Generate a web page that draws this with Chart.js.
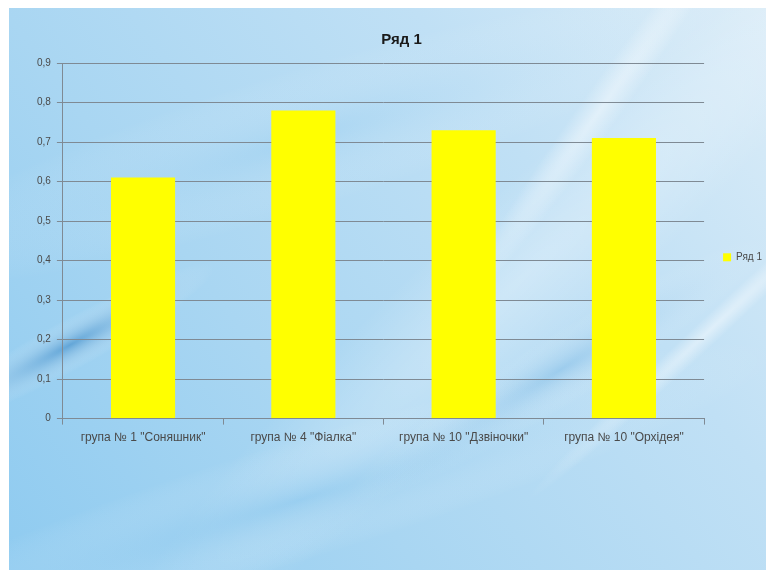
<!DOCTYPE html>
<html>
<head>
<meta charset="utf-8">
<script src="https://cdn.jsdelivr.net/npm/chart.js@4.4.1/dist/chart.umd.min.js"></script>
<style>
  html, body { margin: 0; padding: 0; background: #ffffff; }
  #wrap { width: 766px; height: 575px; position: relative; }
</style>
</head>
<body>
<div id="wrap"><canvas id="canvas" width="766" height="575"></canvas></div>
<script>
// data
const categories = ['група № 1 "Соняшник"', 'група № 4 "Фіалка"', 'група № 10 "Дзвіночки"', 'група № 10 "Орхідея"'];
const seriesName = 'Ряд 1';
const seriesValues = [0.61, 0.78, 0.73, 0.71];
const yTicks = [0, 0.1, 0.2, 0.3, 0.4, 0.5, 0.6, 0.7, 0.8, 0.9];

const textColor = '#4a4a4a';
const gridColor = '#7f8a94';

// blue "office" backdrop with soft diagonal streaks
const backdrop = {
  id: 'backdrop',
  beforeDraw(chart) {
    const ctx = chart.ctx;
    const x0 = 9, y0 = 8, w = 757, h = 562;
    ctx.save();
    ctx.beginPath();
    ctx.rect(x0, y0, w, h);
    ctx.clip();

    let g = ctx.createLinearGradient(x0, y0 + h, x0 + w, y0);
    g.addColorStop(0, '#8fcbf0');
    g.addColorStop(0.35, '#a9d6f2');
    g.addColorStop(0.7, '#c0e0f5');
    g.addColorStop(1, '#dcedf8');
    ctx.fillStyle = g;
    ctx.fillRect(x0, y0, w, h);

    // elliptical streak, fading out on every side
    const streak = (cx, cy, len, thick, angle, color) => {
      ctx.save();
      ctx.translate(cx, cy);
      ctx.rotate(angle);
      ctx.scale(len / thick, 1);
      const r = thick / 2;
      let rg = ctx.createRadialGradient(0, 0, 0, 0, 0, r);
      rg.addColorStop(0, color);
      rg.addColorStop(1, 'rgba(255,255,255,0)');
      ctx.fillStyle = rg;
      ctx.fillRect(-r, -r, 2 * r, 2 * r);
      ctx.restore();
    };
    streak(70, 345, 330, 50, -0.5, 'rgba(50,130,195,0.55)');
    streak(520, 280, 1100, 160, -0.75, 'rgba(255,255,255,0.3)');
    streak(600, 110, 500, 40, -0.95, 'rgba(255,255,255,0.45)');
    streak(710, 330, 500, 26, -0.75, 'rgba(255,255,255,0.45)');
    streak(300, 500, 1000, 120, -0.3, 'rgba(120,190,235,0.4)');
    streak(560, 370, 500, 70, -0.55, 'rgba(90,165,220,0.3)');
    streak(300, 140, 900, 140, -0.3, 'rgba(140,200,238,0.3)');
    ctx.restore();
  }
};

new Chart(document.getElementById('canvas'), {
  type: 'bar',
  data: {
    labels: categories,
    datasets: [{
      label: seriesName,
      data: seriesValues,
      backgroundColor: '#ffff00',
      borderWidth: 0,
      categoryPercentage: 1.0,
      barPercentage: 0.4
    }]
  },
  options: {
    responsive: false,
    animation: false,
    devicePixelRatio: 1,
    layout: { padding: { left: 31, right: -6, top: 8, bottom: 124 } },
    plugins: {
      title: {
        display: true,
        text: seriesName,
        color: '#1a1a1a',
        font: { family: 'Liberation Sans', size: 15, weight: 'bold' },
        padding: { top: 23, bottom: 14 }
      },
      legend: {
        position: 'right',
        title: { display: true, text: ' ', padding: 23, font: { size: 8 } },
        labels: {
          boxWidth: 8,
          boxHeight: 8,
          padding: 19,
          color: textColor,
          font: { family: 'Liberation Sans', size: 10 }
        }
      },
      tooltip: { enabled: false }
    },
    scales: {
      x: {
        grid: { drawOnChartArea: false, drawTicks: true, tickLength: 6, color: gridColor },
        border: { color: gridColor },
        ticks: { color: textColor, font: { family: 'Liberation Sans', size: 12 }, padding: 6, maxRotation: 0, autoSkip: false }
      },
      y: {
        min: 0,
        max: 0.9,
        afterBuildTicks(axis) { axis.ticks = yTicks.map(v => ({ value: v })); },
        grid: { color: gridColor, tickLength: 6 },
        border: { color: gridColor },
        ticks: {
          color: textColor,
          font: { family: 'Liberation Sans', size: 10 },
          padding: 6,
          callback: v => v === 0 ? '0' : v.toFixed(1).replace('.', ',')
        }
      }
    }
  },
  plugins: [backdrop]
});
</script>
</body>
</html>
